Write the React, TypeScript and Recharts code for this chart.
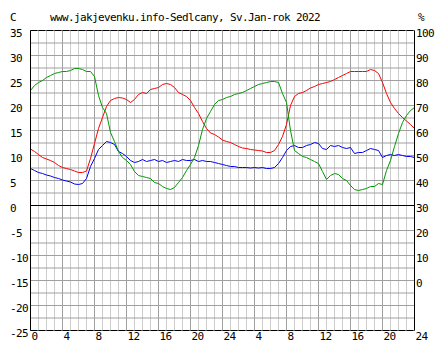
import React from 'react';
import { LineChart, Line, XAxis, YAxis, CartesianGrid, ReferenceLine } from 'recharts';

const hours = [
  0, 0.5, 1, 1.5, 2, 2.5, 3, 3.5, 4, 4.5, 5, 5.5, 6, 6.5, 7, 7.5,
  8, 8.5, 9, 9.5, 10, 10.5, 11, 11.5, 12, 12.5, 13, 13.5, 14, 14.5, 15, 15.5,
  16, 16.5, 17, 17.5, 18, 18.5, 19, 19.5, 20, 20.5, 21, 21.5, 22, 22.5, 23, 23.5,
  24, 24.5, 25, 25.5, 26, 26.5, 27, 27.5, 28, 28.5, 29, 29.5, 30, 30.5, 31, 31.5,
  32, 32.5, 33, 33.5, 34, 34.5, 35, 35.5, 36, 36.5, 37, 37.5, 38, 38.5, 39, 39.5,
  40, 40.5, 41, 41.5, 42, 42.5, 43, 43.5, 44, 44.5, 45, 45.5, 46, 46.5, 47, 47.5,
  48,
];

// temperature (C)
const temperature = [
  11.3, 10.8, 10.2, 9.6, 9.3, 9.0, 8.6, 8.0,
  7.6, 7.4, 7.2, 6.9, 6.6, 6.6, 6.9, 9.4,
  12.4, 15.4, 17.6, 19.8, 21.0, 21.4, 21.6, 21.5,
  21.2, 20.6, 21.2, 22.2, 22.6, 22.4, 23.2, 23.4,
  23.6, 24.2, 24.4, 24.2, 23.6, 22.6, 22.2, 21.8,
  21.0, 19.6, 18.4, 16.8, 15.4, 14.5, 14.2, 13.7,
  13.1, 12.8, 12.6, 12.2, 11.8, 11.5, 11.4, 11.2,
  11.1, 11.0, 10.9, 10.6, 10.6, 11.0, 12.2, 13.8,
  16.2, 20.0, 21.8, 22.4, 22.6, 23.0, 23.5, 23.8,
  24.2, 24.4, 24.6, 24.8, 25.2, 25.6, 26.0, 26.4,
  26.8, 26.8, 26.8, 26.8, 26.8, 27.2, 27.0, 26.4,
  24.6, 22.4, 20.6, 19.4, 18.4, 17.6, 16.9, 16.2,
  15.4,
];

// dew point (C)
const dewPoint = [
  7.4, 7.0, 6.6, 6.4, 6.1, 5.9, 5.6, 5.4,
  5.1, 4.9, 4.7, 4.3, 4.2, 4.4, 5.4, 7.8,
  9.4, 11.2, 12.0, 12.8, 12.6, 12.2, 10.8, 10.4,
  9.8, 9.0, 8.6, 8.8, 9.2, 8.8, 9.0, 9.2,
  8.8, 9.0, 8.6, 8.8, 9.0, 8.8, 9.2, 9.0,
  9.0, 9.2, 8.8, 9.0, 8.8, 8.8, 8.6, 8.4,
  8.2, 8.0, 7.8, 7.8, 7.6, 7.6, 7.6, 7.5,
  7.6, 7.5, 7.6, 7.4, 7.4, 7.6, 8.4, 9.6,
  11.0, 11.8, 12.0, 11.6, 11.6, 12.0, 12.2, 12.6,
  12.4, 11.4, 11.2, 12.0, 11.8, 12.0, 11.6, 11.4,
  11.6, 10.4, 10.6, 10.6, 11.0, 11.4, 11.2, 11.0,
  9.6, 10.0, 10.2, 10.0, 10.2, 10.0, 9.8, 9.8,
  9.6,
];

// relative humidity (%)
const humidity = [
  76, 78, 79.2, 80, 81.2, 82, 82.8, 83.2,
  83.6, 83.6, 84, 84.8, 84.8, 84.4, 83.6, 83.6,
  81.6, 74, 69.2, 66.8, 59.2, 55.6, 51.6, 49.2,
  48, 46.4, 43.6, 42, 41.6, 41.2, 40.8, 39.2,
  38.8, 37.6, 36.8, 36.4, 37.2, 39.2, 41.2, 44,
  46.4, 49.2, 54, 60.4, 64.8, 67.6, 70.4, 72,
  72.4, 73.2, 73.6, 74.4, 74.8, 75.2, 76, 76.8,
  77.6, 78.4, 78.8, 79.2, 79.6, 79.6, 79.2, 74.8,
  71.2, 60, 52, 50.8, 49.6, 49.2, 48.4, 47.6,
  46.8, 43.6, 40.4, 42, 42.8, 42.4, 40.8, 40,
  38, 36.4, 36, 36.4, 36.8, 37.6, 37.6, 38.8,
  38.4, 44, 48, 53.6, 58.8, 63.2, 66, 68,
  69.2,
];

const hourTicks = [
  0, 1, 2, 3, 4, 5, 6, 7, 8, 9, 10, 11, 12, 13, 14, 15, 16, 17, 18, 19, 20, 21, 22, 23, 24,
  25, 26, 27, 28, 29, 30, 31, 32, 33, 34, 35, 36, 37, 38, 39, 40, 41, 42, 43, 44, 45, 46, 47, 48,
];
const majorHourTicks = [0, 4, 8, 12, 16, 20, 24, 28, 32, 36, 40, 44, 48];
const leftTicks = [
  -25, -22.5, -20, -17.5, -15, -12.5, -10, -7.5, -5, -2.5, 0, 2.5, 5, 7.5, 10, 12.5,
  15, 17.5, 20, 22.5, 25, 27.5, 30, 32.5, 35,
];
const rightTicks = [0, 10, 20, 30, 40, 50, 60, 70, 80, 90, 100];

const title = 'www.jakjevenku.info-Sedlcany, Sv.Jan-rok 2022';

const FONT = "'DejaVu Sans Mono', monospace";
const textStyle = { fontFamily: FONT, fontSize: 11, letterSpacing: -0.62 } as const;

const rows = hours.map((h, i) => ({
  h,
  t: temperature[i],
  d: dewPoint[i],
  rh: humidity[i],
}));

const hourLabel = (v: number) => (v === 0 ? '0' : String(v % 24 === 0 ? 24 : v % 24));

const XTick = (props: any) => {
  const { x, y, payload } = props;
  if (payload.value % 4 !== 0) return <g />;
  return (
    <text x={x + 1} y={y + 9.5} textAnchor="start" fill="#000" style={textStyle}>
      {hourLabel(payload.value)}
    </text>
  );
};

const LeftTick = (props: any) => {
  const { x, y, payload } = props;
  if (Math.abs(payload.value % 5) > 0.001) return <g />;
  return (
    <text x={x - 20.5} y={y + 6} textAnchor="start" fill="#000" style={textStyle}>
      {payload.value}
    </text>
  );
};

const RightTick = (props: any) => {
  const { x, y, payload } = props;
  return (
    <text x={x + 1.5} y={y + 6} textAnchor="start" fill="#000" style={textStyle}>
      {payload.value}
    </text>
  );
};

export default function App() {
  return (
    <div style={{ position: 'absolute', left: 0, top: 0, width: 444, height: 360, background: '#fff' }}>
      <svg width={444} height={30} style={{ position: 'absolute', left: 0, top: 0 }}>
        <text x={10} y={21} fill="#000" style={textStyle}>C</text>
        <text x={50} y={21} fill="#000" style={textStyle}>{title}</text>
        <text x={418} y={21} fill="#000" style={textStyle}>%</text>
      </svg>
      <div style={{ position: 'absolute', left: 0, top: 0 }}>
        <LineChart
          width={444}
          height={360}
          data={rows}
          margin={{ top: 30.5, right: 0, bottom: 0, left: 0 }}
        >
          <CartesianGrid stroke="#cccccc" horizontal={false} vertical={true} xAxisId={0} yAxisId="left" />
          <CartesianGrid stroke="#a0a0a0" horizontal={false} vertical={true} xAxisId="major" yAxisId="left" />
          <CartesianGrid stroke="#a0a0a0" horizontal={true} vertical={false} xAxisId={0} yAxisId="left" />
          <XAxis
            xAxisId={0}
            dataKey="h"
            type="number"
            domain={[0, 48]}
            ticks={hourTicks}
            interval={0}
            height={29.5}
            tickSize={0}
            tickMargin={0}
            axisLine={false}
            tickLine={false}
            tick={<XTick />}
          />
          <XAxis
            xAxisId="major"
            dataKey="h"
            type="number"
            domain={[0, 48]}
            ticks={majorHourTicks}
            interval={0}
            hide
          />
          <YAxis
            yAxisId="left"
            orientation="left"
            type="number"
            domain={[-25, 35]}
            ticks={leftTicks}
            interval={0}
            width={30.5}
            tickSize={0}
            tickMargin={0}
            axisLine={{ stroke: '#000' }}
            tickLine={false}
            tick={<LeftTick />}
          />
          <YAxis
            yAxisId="right"
            orientation="right"
            type="number"
            domain={[-20, 100]}
            ticks={rightTicks}
            interval={0}
            width={29.5}
            tickSize={0}
            tickMargin={0}
            axisLine={{ stroke: '#000' }}
            tickLine={false}
            tick={<RightTick />}
          />
          <ReferenceLine yAxisId="left" y={0} stroke="#000" />
          <ReferenceLine yAxisId="left" y={35} stroke="#000" strokeDasharray="7 1" />
          <ReferenceLine yAxisId="left" y={-25} stroke="#000" strokeDasharray="7 1" />
          <Line
            yAxisId="left"
            dataKey="t"
            type="linear"
            stroke="#ff0000"
            strokeWidth={1}
            dot={false}
            activeDot={false}
            isAnimationActive={false}
          />
          <Line
            yAxisId="left"
            dataKey="d"
            type="linear"
            stroke="#0000ff"
            strokeWidth={1}
            dot={false}
            activeDot={false}
            isAnimationActive={false}
          />
          <Line
            yAxisId="right"
            dataKey="rh"
            type="linear"
            stroke="#009900"
            strokeWidth={1}
            dot={false}
            activeDot={false}
            isAnimationActive={false}
          />
        </LineChart>
      </div>
    </div>
  );
}
